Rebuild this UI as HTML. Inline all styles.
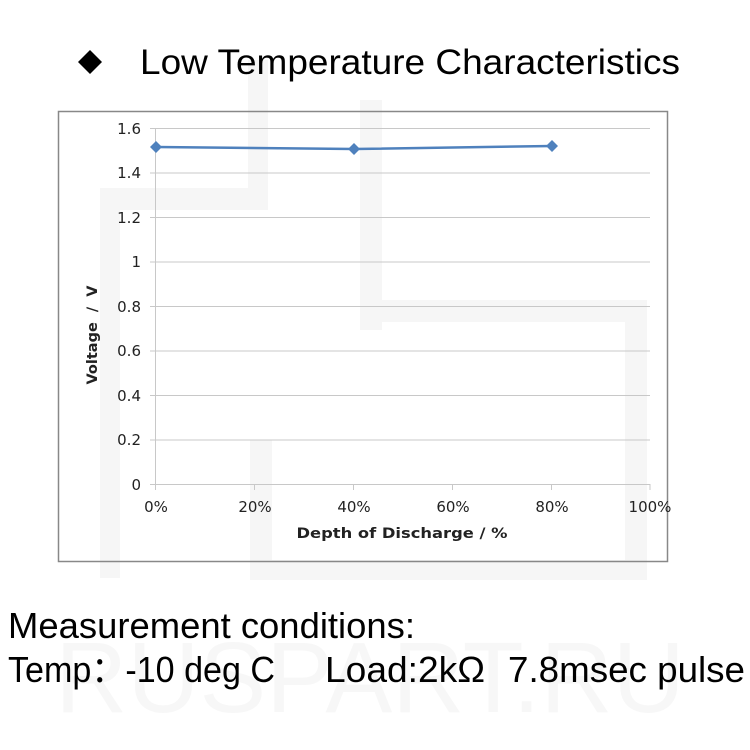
<!DOCTYPE html>
<html><head><meta charset="utf-8"><style>
body{margin:0;width:750px;height:750px;background:#fff;overflow:hidden;font-family:"Liberation Sans",sans-serif}
</style></head><body>
<svg width="750" height="750" xmlns="http://www.w3.org/2000/svg" style="position:absolute;left:0;top:0">
<g fill="#f6f6f6">
<rect x="248" y="60" width="20" height="150"/>
<rect x="100" y="188" width="168" height="22"/>
<rect x="100" y="188" width="20" height="390"/>
<rect x="360" y="100" width="22" height="230"/>
<rect x="360" y="300" width="285" height="22"/>
<rect x="625" y="300" width="22" height="280"/>
<rect x="250" y="440" width="22" height="140"/>
<rect x="250" y="560" width="395" height="20"/>
</g>
<text x="370" y="712" font-size="100" fill="#f7f7f7" text-anchor="middle" font-family="Liberation Sans">RUSPART.RU</text>
<rect x="58.5" y="111.5" width="609" height="450" fill="none" stroke="#888" stroke-width="1.5"/>
<g stroke="#c8c8c8" stroke-width="1">
<line x1="150" y1="128.5" x2="650" y2="128.5"/>
<line x1="150" y1="173" x2="650" y2="173"/>
<line x1="150" y1="217.5" x2="650" y2="217.5"/>
<line x1="150" y1="262" x2="650" y2="262"/>
<line x1="150" y1="306.5" x2="650" y2="306.5"/>
<line x1="150" y1="351" x2="650" y2="351"/>
<line x1="150" y1="395.5" x2="650" y2="395.5"/>
<line x1="150" y1="440" x2="650" y2="440"/>
<line x1="150" y1="484.5" x2="650" y2="484.5"/>
<line x1="155.5" y1="128" x2="155.5" y2="490"/>
<line x1="254.5" y1="484" x2="254.5" y2="490"/>
<line x1="353.5" y1="484" x2="353.5" y2="490"/>
<line x1="452.5" y1="484" x2="452.5" y2="490"/>
<line x1="551.5" y1="484" x2="551.5" y2="490"/>
<line x1="650" y1="484" x2="650" y2="490"/>
</g>
<g font-family="DejaVu Sans" font-size="15" fill="#222" text-anchor="end">
<text x="141" y="134">1.6</text><text x="141" y="178">1.4</text><text x="141" y="223">1.2</text>
<text x="141" y="267">1</text><text x="141" y="312">0.8</text><text x="141" y="356">0.6</text>
<text x="141" y="401">0.4</text><text x="141" y="445">0.2</text><text x="141" y="490">0</text>
</g>
<g font-family="DejaVu Sans" font-size="15" fill="#222" text-anchor="middle">
<text x="156" y="512">0%</text><text x="255" y="512">20%</text><text x="354" y="512">40%</text>
<text x="453" y="512">60%</text><text x="552" y="512">80%</text><text x="650" y="512">100%</text>
<text x="402" y="538" font-weight="bold" font-size="14.5" textLength="211" lengthAdjust="spacingAndGlyphs">Depth of Discharge / %</text>
<text transform="translate(97,335) rotate(-90)" font-weight="bold" font-size="14.5" xml:space="preserve">Voltage  /  V</text>
</g>
<polyline points="156,147 354,149 552,146" fill="none" stroke="#4f81bd" stroke-width="2.5"/>
<g fill="#4f81bd">
<polygon points="156,141 162,147 156,153 150,147"/>
<polygon points="354,143 360,149 354,155 348,149"/>
<polygon points="552,140 558,146 552,152 546,146"/>
</g>
<polygon points="90,50 102,62 90,74 78,62" fill="#000"/>
<text x="140" y="74" font-size="35" fill="#000" textLength="540" lengthAdjust="spacingAndGlyphs">Low Temperature Characteristics</text>
<text x="8" y="638" font-size="36" fill="#000" textLength="407" lengthAdjust="spacingAndGlyphs">Measurement conditions:</text>
<text x="8" y="682" font-size="36" fill="#000" textLength="267" lengthAdjust="spacingAndGlyphs">Temp：-10 deg C</text>
<text x="325" y="682" font-size="36" fill="#000" textLength="160" lengthAdjust="spacingAndGlyphs">Load:2kΩ</text>
<text x="508" y="682" font-size="36" fill="#000" textLength="237" lengthAdjust="spacingAndGlyphs">7.8msec pulse</text>
</svg>
</body></html>
